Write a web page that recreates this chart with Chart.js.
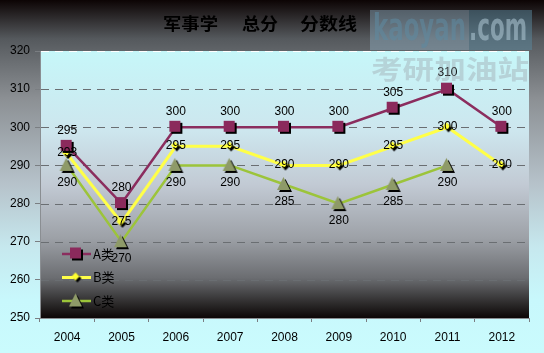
<!DOCTYPE html>
<html>
<head>
<meta charset="utf-8">
<script src="https://cdn.jsdelivr.net/npm/chart.js@4.4.0/dist/chart.umd.min.js"></script>
<style>
  html, body { margin: 0; padding: 0; }
  body {
    width: 544px; height: 353px; overflow: hidden;
    background: linear-gradient(to bottom, #0c0404 0%, #55595d 11%, #8c9094 28%, #b6c2ca 52%, #c6e8ee 70%, #c8f8fc 85%, #cafbfd 100%);
  }
  #wrap { position: relative; width: 544px; height: 353px; }
</style>
</head>
<body>
<div id="wrap"><canvas id="chart" width="544" height="353"></canvas></div>
<script>
const years = ['2004', '2005', '2006', '2007', '2008', '2009', '2010', '2011', '2012'];
const scoreA = [295, 280, 300, 300, 300, 300, 305, 310, 300];
const scoreB = [293, 275, 295, 295, 290, 290, 295, 300, 290];
const scoreC = [290, 270, 290, 290, 285, 280, 285, 290, null];
const seriesNames = ['A类', 'B类', 'C类'];
const yTicks = [250, 260, 270, 280, 290, 300, 310, 320];

const NUM_FONT = '"Liberation Sans", Arial, sans-serif';
const CJK_FONT = '"Noto Sans CJK SC", "Liberation Sans", sans-serif';

// marker images with a small black drop shadow, like the office chart
function makeMarker(shape, fill, size) {
    const c = document.createElement('canvas');
    c.width = size + 4;
    c.height = size + 4;
    const ctx = c.getContext('2d');
    const path = (ox, oy) => {
        ctx.beginPath();
        if (shape === 'square') {
            ctx.rect(ox, oy, size, size);
        } else if (shape === 'diamond') {
            ctx.moveTo(ox + size / 2, oy);
            ctx.lineTo(ox + size, oy + size / 2);
            ctx.lineTo(ox + size / 2, oy + size);
            ctx.lineTo(ox, oy + size / 2);
        } else {
            ctx.moveTo(ox + size / 2, oy);
            ctx.lineTo(ox + size, oy + size);
            ctx.lineTo(ox, oy + size);
        }
        ctx.closePath();
    };
    path(3, 3);
    ctx.fillStyle = '#000';
    ctx.fill();
    path(1, 1);
    ctx.fillStyle = fill;
    ctx.fill();
    return c;
}

const markerA = makeMarker('square', '#8b2a5c', 11);
const markerB = makeMarker('diamond', '#ffff30', 8);
const markerC = makeMarker('triangle', '#8e9a68', 13);

const lineColors = ['#8b2d5e', '#ffff48', '#9cc43a'];
const markers = [markerA, markerB, markerC];

const plotBackground = {
    id: 'plotBackground',
    beforeDraw(chart) {
        const { ctx, chartArea: a } = chart;
        const g = ctx.createLinearGradient(0, a.top, 0, a.bottom);
        g.addColorStop(0, '#c6f7f9');
        g.addColorStop(0.3, '#cde6ee');
        g.addColorStop(0.5, '#c2cad4');
        g.addColorStop(0.7, '#9da1a7');
        g.addColorStop(0.85, '#6b6d71');
        g.addColorStop(0.95, '#2a2828');
        g.addColorStop(1, '#0c0606');
        ctx.save();
        ctx.fillStyle = g;
        ctx.fillRect(a.left, a.top, a.right - a.left, a.bottom - a.top);
        ctx.restore();
    },
    // dashed horizontal grid lines
    beforeDatasetsDraw(chart) {
        const { ctx, chartArea: a } = chart;
        const ys = chart.scales.y;
        ctx.save();
        ctx.lineWidth = 1;
        ctx.setLineDash([8, 6]);
        yTicks.forEach(v => {
            if (v === 250) return;
            const py = Math.round(ys.getPixelForValue(v)) + 0.5;
            ctx.strokeStyle = v === 320 ? '#ffffff' : '#6a6e72';
            ctx.beginPath();
            ctx.moveTo(a.left + 1, py);
            ctx.lineTo(a.right, py);
            ctx.stroke();
        });
        ctx.restore();
    }
};

// value labels: A above, B on the point, C below
const valueLabels = {
    id: 'valueLabels',
    afterDatasetsDraw(chart) {
        const ctx = chart.ctx;
        ctx.save();
        ctx.font = '12px ' + NUM_FONT;
        ctx.fillStyle = '#000';
        ctx.textAlign = 'center';
        ctx.textBaseline = 'middle';
        const offsets = [-16, -1, 17];
        chart.data.datasets.forEach((ds, i) => {
            chart.getDatasetMeta(i).data.forEach((pt, j) => {
                if (ds.data[j] == null) return;
                ctx.fillText(String(ds.data[j]), pt.x, pt.y + offsets[i]);
            });
        });
        ctx.restore();
    }
};

// legend sits inside the plot, lower left
const innerLegend = {
    id: 'innerLegend',
    afterDatasetsDraw(chart) {
        const ctx = chart.ctx;
        const a = chart.chartArea;
        ctx.save();
        chart.data.datasets.forEach((ds, i) => {
            const y = a.top + 203 + i * 23.5;
            const x0 = a.left + 22;
            ctx.strokeStyle = lineColors[i];
            ctx.lineWidth = i === 1 ? 3 : 2.5;
            ctx.beginPath();
            ctx.moveTo(x0, y);
            ctx.lineTo(x0 + 29, y);
            ctx.stroke();
            const m = markers[i];
            ctx.drawImage(m, x0 + 14.5 - m.width / 2, y - m.height / 2);
            ctx.font = '13px ' + CJK_FONT;
            ctx.fillStyle = '#000';
            ctx.textBaseline = 'middle';
            ctx.fillText(seriesNames[i], x0 + 31, y);
        });
        ctx.restore();
    }
};

function fitText(ctx, text, x, y, w) {
    const m = ctx.measureText(text).width;
    ctx.save();
    ctx.translate(x, y);
    ctx.scale(w / m, 1);
    ctx.fillText(text, 0, 0);
    ctx.restore();
}

// title and the site watermark
const decorations = {
    id: 'decorations',
    afterDraw(chart) {
        const ctx = chart.ctx;
        ctx.save();
        ctx.font = 'bold 17px ' + CJK_FONT;
        ctx.fillStyle = '#000';
        ctx.textAlign = 'left';
        ctx.textBaseline = 'middle';
        fitText(ctx, '军事学', 163, 24, 55);
        fitText(ctx, '总分', 242, 24, 36);
        fitText(ctx, '分数线', 300, 24, 57);

        ctx.globalAlpha = 0.5;
        ctx.fillStyle = '#8aa6b8';
        ctx.fillRect(370, 10, 99, 40);
        ctx.fillStyle = '#5a879e';
        ctx.fillRect(469, 10, 63, 40);
        ctx.globalAlpha = 0.6;
        ctx.font = 'bold 38px "DejaVu Sans", sans-serif';
        ctx.fillStyle = '#5f889e';
        fitText(ctx, 'kaoyan', 373, 30, 93);
        ctx.fillStyle = '#a8c2ce';
        fitText(ctx, '.com', 469, 30, 58);
        ctx.globalAlpha = 0.4;
        ctx.font = 'bold 26px ' + CJK_FONT;
        ctx.fillStyle = '#9aa2aa';
        fitText(ctx, '考研加油站', 371, 69, 158);
        ctx.restore();
    }
};

new Chart(document.getElementById('chart'), {
    type: 'line',
    data: {
        labels: years,
        datasets: [scoreA, scoreB, scoreC].map((vals, i) => ({
            label: seriesNames[i],
            data: vals,
            borderColor: lineColors[i],
            borderWidth: i === 1 ? 3 : 2.5,
            pointStyle: markers[i],
            pointRadius: 6,
            tension: 0,
            spanGaps: false,
            fill: false,
        })),
    },
    options: {
        responsive: false,
        animation: false,
        layout: { padding: { top: 51, right: 15, bottom: 0, left: 0 } },
        plugins: {
            legend: { display: false },
            title: { display: false },
            tooltip: { enabled: false },
        },
        scales: {
            x: {
                offset: true,
                grid: {
                    offset: true,
                    drawOnChartArea: false,
                    drawTicks: true,
                    tickLength: 4,
                    color: '#7a7e82',
                },
                border: { color: '#8a8e92', width: 1 },
                ticks: {
                    color: '#000',
                    padding: 8,
                    font: { family: NUM_FONT, size: 12 },
                    maxRotation: 0,
                },
                afterFit(scale) { scale.height = 35; },
            },
            y: {
                min: 250,
                max: 320,
                afterBuildTicks(scale) { scale.ticks = yTicks.map(v => ({ value: v })); },
                grid: {
                    drawOnChartArea: false,
                    color: '#7a7e82',
                    tickLength: 5,
                    drawTicks: true,
                },
                border: { color: '#8a8e92', width: 1 },
                ticks: {
                    color: '#000',
                    padding: 5,
                    font: { family: NUM_FONT, size: 12 },
                },
                afterFit(scale) { scale.width = 40; },
            },
        },
    },
    plugins: [plotBackground, valueLabels, innerLegend, decorations],
});
</script>
</body>
</html>
